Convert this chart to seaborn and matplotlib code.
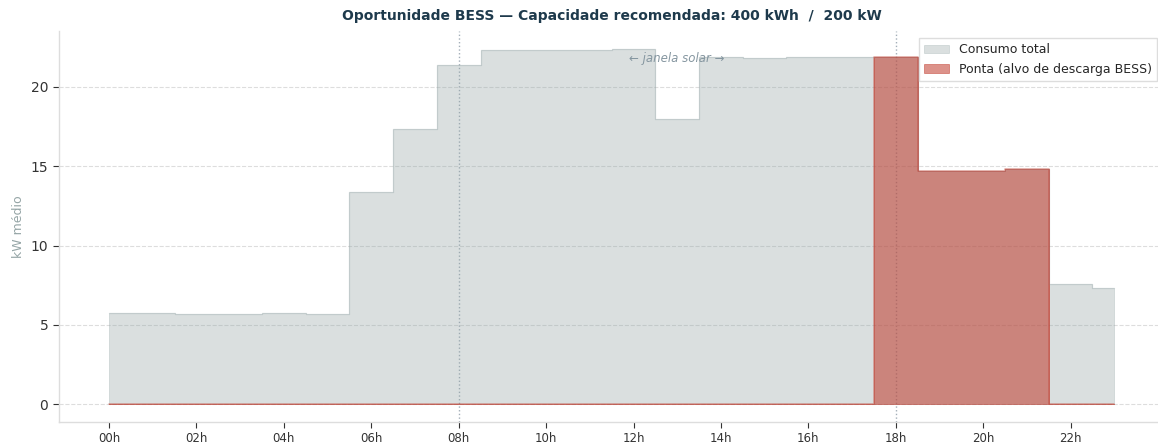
import numpy as np
import pandas as pd
import matplotlib
matplotlib.use('Agg')
import matplotlib.pyplot as plt
import seaborn as sns

hours = list(range(24))
hour_labels = ['%02dh' % h for h in range(0, 24, 2)]
consumo = [5.75, 5.75, 5.68, 5.68, 5.72, 5.68, 13.4, 17.35, 21.4, 22.3, 22.35, 22.3,
           22.4, 17.95, 21.85, 21.8, 21.85, 21.9, 21.85, 14.72, 14.72, 14.8, 7.55, 7.3]
ponta_horas = [18, 19, 20, 21]
ponta = [v if h in ponta_horas else 0.0 for h, v in zip(hours, consumo)]

df = pd.DataFrame({'hora': hours, 'consumo': consumo, 'ponta': ponta})

sns.set_theme(style='white')
plt.rcParams['font.family'] = ['DejaVu Sans']

fig = plt.figure(figsize=(11.58, 4.46), dpi=100)
ax = fig.add_axes([0.0507, 0.0538, 0.955, 0.8767])

GRAY = '#95a5a6'
RED = '#c0392b'

ax.fill_between(df['hora'], df['consumo'], step='mid', color=GRAY, alpha=0.35,
                linewidth=0.6, label='Consumo total')
sns.lineplot(data=df, x='hora', y='consumo', drawstyle='steps-mid', color=GRAY,
             alpha=0.25, linewidth=1, ax=ax)
ax.fill_between(df['hora'], df['ponta'], step='mid', color=RED, alpha=0.55,
                linewidth=0.6, label='Ponta (alvo de descarga BESS)')
sns.lineplot(data=df, x='hora', y='ponta', drawstyle='steps-mid', color=RED,
             alpha=0.45, linewidth=1.1, ax=ax)

for xv in (8, 18):
    ax.axvline(xv, color='#a3aeb8', linestyle=':', linewidth=1, zorder=0)

ax.text(13, 21.8, '\u2190 janela solar \u2192', ha='center', va='center',
        fontsize=8.5, style='italic', color='#8596a0')

ax.set_xticks(range(0, 24, 2))
ax.set_xticklabels(hour_labels, fontsize=8.5, color='#333333')
ax.tick_params(axis='y', labelsize=10, colors='#333333')
ax.tick_params(axis='both', which='both', length=4, color='#333333', width=0.8,
               left=True, bottom=True)
ax.set_xlabel('')
ax.set_ylabel('kW médio', fontsize=9, color=GRAY)
ax.set_title('Oportunidade BESS \u2014 Capacidade recomendada: 400 kWh  /  200 kW',
             fontsize=10, fontweight='bold', color='#1e3a4c', pad=8)

ax.grid(axis='y', linestyle='--', color='#dddddd', linewidth=0.8)
ax.set_axisbelow(True)
sns.despine(ax=ax)
for s in ('left', 'bottom'):
    ax.spines[s].set_color('#dddddd')
    ax.spines[s].set_linewidth(1)

ax.legend(loc='upper right', fontsize=9, frameon=True, edgecolor='#dddddd',
          fancybox=False, framealpha=1, borderaxespad=0.6)

plt.savefig('out.png', dpi=100)
print('OK')
